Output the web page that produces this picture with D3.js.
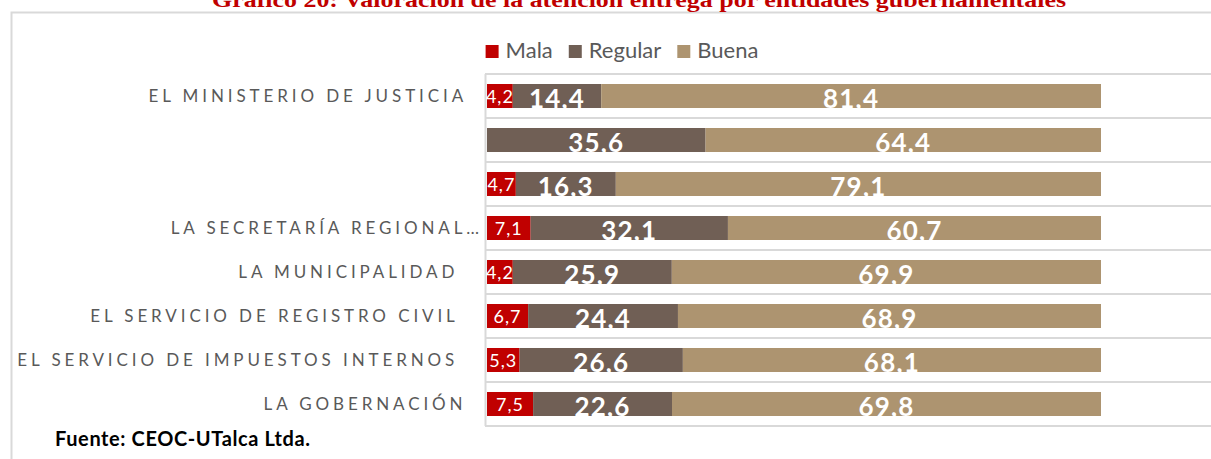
<!DOCTYPE html>
<html>
<head>
<meta charset="utf-8">
<script src="https://cdn.jsdelivr.net/npm/d3@7"></script>
<style>
  html, body { margin: 0; padding: 0; background: #fff; overflow: hidden; }
  svg { display: block; }
  text { white-space: pre; }
</style>
</head>
<body>
<div id="chart"></div>
<script>
// categories as they come from the sheet (trailing spaces kept)
var categories = [
  "EL MINISTERIO DE JUSTICIA  ",
  "",
  "",
  "LA SECRETARÍA REGIONAL…",
  "LA MUNICIPALIDAD   ",
  "EL SERVICIO DE REGISTRO CIVIL   ",
  "EL SERVICIO DE IMPUESTOS INTERNOS   ",
  "LA GOBERNACIÓN  "
];
var seriesNames = ["Mala", "Regular", "Buena"];
var mala = [4.2, 0, 4.7, 7.1, 4.2, 6.7, 5.3, 7.5];
var regular = [14.4, 35.6, 16.3, 32.1, 25.9, 24.4, 26.6, 22.6];
var buena = [81.4, 64.4, 79.1, 60.7, 69.9, 68.9, 68.1, 69.8];

var titleText = "Gráfico 20: Valoración de la atención entrega por entidades gubernamentales";
var sourceText = "Fuente: CEOC-UTalca Ltda.";

var colors = {Mala: "#c00000", Regular: "#705f55", Buena: "#ad9470"};
var width = 1211, height = 459;
var plot = {left: 487, right: 1101, top: 74, bottom: 426};

/* rows for the stack */
var rows = categories.map(function (c, i) {
  return {idx: i, name: c, Mala: mala[i], Regular: regular[i], Buena: buena[i]};
});

var svg = d3.select("#chart").append("svg")
    .attr("width", width)
    .attr("height", height);

/* outer frame */
svg.append("rect")
    .attr("x", 11.5).attr("y", 12.5)
    .attr("width", 1300).attr("height", 500)
    .attr("fill", "none")
    .attr("stroke", "#d9d9d9")
    .attr("stroke-width", 2);

/* title, its top is cut by the page edge as in the source */
svg.append("text")
    .attr("x", 639).attr("y", 7)
    .attr("text-anchor", "middle")
    .attr("textLength", 854)
    .attr("lengthAdjust", "spacingAndGlyphs")
    .style("font-family", "'Liberation Serif', serif")
    .style("font-weight", "bold")
    .style("font-size", "22px")
    .style("fill", "#c00000")
    .text(titleText);

var x = d3.scaleLinear().domain([0, 1]).range([plot.left, plot.right]);
var y = d3.scaleBand()
    .domain(d3.range(categories.length))
    .range([plot.top, plot.bottom])
    .paddingInner(0.4545)
    .paddingOuter(0.2273);

var step = y.step();

/* band separators and the category axis line */
var g = svg.append("g");
g.selectAll("line.sep")
    .data(d3.range(categories.length + 1))
    .enter().append("line")
    .attr("class", "sep")
    .attr("x1", plot.left - 2).attr("x2", width + 5)
    .attr("y1", function (d) { return plot.top + d * step; })
    .attr("y2", function (d) { return plot.top + d * step; })
    .attr("stroke", "#d9d9d9")
    .attr("stroke-width", 2);
g.append("line")
    .attr("x1", plot.left - 1.5).attr("x2", plot.left - 1.5)
    .attr("y1", plot.top).attr("y2", plot.bottom)
    .attr("stroke", "#d9d9d9")
    .attr("stroke-width", 2);

/* stacked 100% bars */
var stack = d3.stack().keys(seriesNames).offset(d3.stackOffsetExpand);
var stacked = stack(rows);

var layers = svg.selectAll("g.layer")
    .data(stacked)
    .enter().append("g")
    .attr("class", "layer")
    .attr("fill", function (d) { return colors[d.key]; });

layers.selectAll("rect")
    .data(function (d) { return d; })
    .enter().append("rect")
    .attr("x", function (d) { return x(d[0]); })
    .attr("y", function (d) { return y(d.data.idx); })
    .attr("width", function (d) { return Math.max(0, x(d[1]) - x(d[0])); })
    .attr("height", y.bandwidth());

/* value labels */
function fmt(v) {
  return d3.format(".1f")(v).replace(".", ",");
}
layers.each(function (layer) {
  var key = layer.key;
  var small = key === "Mala";
  d3.select(this).selectAll("text")
      .data(layer.filter(function (d) { return d.data[key] > 0; }))
      .enter().append("text")
      .attr("x", function (d) { return (x(d[0]) + x(d[1])) / 2; })
      .attr("y", function (d) {
        return small ? y(d.data.idx) + y.bandwidth() / 2 + 7 : y(d.data.idx) + y.bandwidth();
      })
      .attr("text-anchor", "middle")
      .style("font-family", "Lato, 'Open Sans', sans-serif")
      .style("font-weight", small ? "normal" : "bold")
      .style("font-size", small ? "18px" : "26px")
      .style("letter-spacing", small ? "1px" : "1.2px")
      .style("fill", "#ffffff")
      .text(function (d) { return fmt(d.data[key]); });
});

/* category labels */
svg.append("g").selectAll("text")
    .data(rows)
    .enter().append("text")
    .attr("x", plot.left - 4)
    .attr("y", function (d) { return y(d.idx) + y.bandwidth() / 2; })
    .attr("dy", "0.36em")
    .attr("text-anchor", "end")
    .style("font-family", "Lato, 'Open Sans', sans-serif")
    .style("font-size", "17px")
    .style("letter-spacing", "3.9px")
    .style("fill", "#595959")
    .text(function (d) { return d.name; });

/* legend */
var legend = svg.append("g");
var items = legend.selectAll("g")
    .data(seriesNames)
    .enter().append("g");
items.append("rect")
    .attr("y", 45)
    .attr("width", 13).attr("height", 13)
    .attr("fill", function (d) { return colors[d]; });
items.append("text")
    .attr("x", 20).attr("y", 58)
    .style("font-family", "Lato, 'Open Sans', sans-serif")
    .style("font-size", "22px")
    .style("fill", "#595959")
    .text(function (d) { return d; });
var cursor = 0;
var offsets = [];
items.each(function () {
  offsets.push(cursor);
  var w = d3.select(this).select("text").node().getComputedTextLength();
  cursor += 20 + w + 16;
});
var total = cursor - 16;
var start = 622 - total / 2;
items.attr("transform", function (d, i) { return "translate(" + (start + offsets[i]) + ",0)"; });

/* source note */
svg.append("text")
    .attr("x", 55).attr("y", 446)
    .style("font-family", "Lato, 'Open Sans', sans-serif")
    .style("font-weight", "bold")
    .style("font-size", "20px")
    .style("letter-spacing", "0.6px")
    .style("fill", "#000000")
    .text(sourceText);
</script>
</body>
</html>
